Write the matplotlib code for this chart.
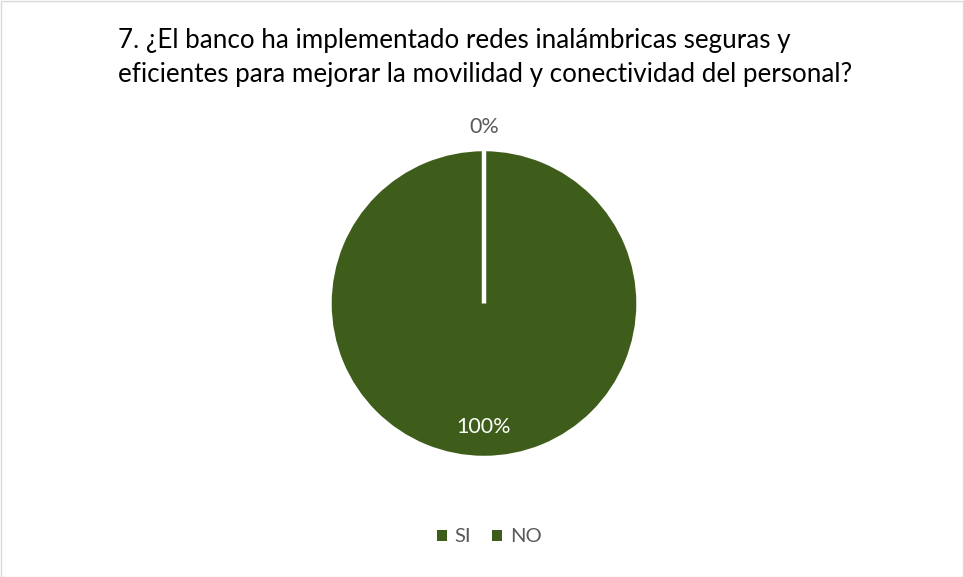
import matplotlib.pyplot as plt
import numpy as np
from matplotlib.patches import Rectangle

title_lines = ["7. ¿El banco ha implementado redes inalámbricas seguras y",
               "eficientes para mejorar la movilidad y conectividad del personal?"]
labels = ['SI', 'NO']
values = [100, 0]
colors = ['#3E5D1B', '#3E5D1B']

W, H = 964, 577
plt.rcParams['font.family'] = ['Lato', 'DejaVu Sans']

fig = plt.figure(figsize=(W / 100, H / 100), dpi=100)
fig.patches.append(Rectangle((0.5 / W, 0.5 / H), 1 - 1.5 / W, 1 - 1.5 / H, transform=fig.transFigure,
                             fill=False, edgecolor='#D9D9D9', linewidth=1))

# title, two lines placed by baseline
for i, line in enumerate(title_lines):
    fig.text(118 / W, 1 - (48 + 34 * i) / H, line, ha='left', va='baseline', fontsize=18.7,
             color='#000000')

# pie axes: center (484, 303.5), radius ~154 px
r = 154.5
cx, cy = 484, H - 303.5
side = 2.5 * r
ax = fig.add_axes([(cx - side / 2) / W, (cy - side / 2) / H, side / W, side / H])
wedges, _ = ax.pie(values, colors=colors, startangle=90, counterclock=False,
                   wedgeprops=dict(edgecolor='white', linewidth=3.2))
ax.set_xlim(-1.25, 1.25)
ax.set_ylim(-1.25, 1.25)
ax.set_aspect('equal')

total = sum(values)
for w, v in zip(wedges, values):
    ang = np.deg2rad((w.theta1 + w.theta2) / 2)
    if v > 0:
        d, col = 0.8, 'white'
    else:
        d, col = 1.14, '#595959'
    ax.text(d * np.cos(ang), d * np.sin(ang), f"{v / total:.0%}", ha='center', va='center',
            fontsize=15.5, color=col)

handles = [Rectangle((0, 0), 1, 1, facecolor=c) for c in colors]
fig.legend(handles, labels, loc='center', bbox_to_anchor=(489 / W, 1 - 537 / H), ncol=2,
           frameon=False, fontsize=14.5, labelcolor='#595959', handlelength=0.5, handleheight=0.5,
           handletextpad=0.4, columnspacing=1.0)

fig.savefig('out.png', dpi=100)
